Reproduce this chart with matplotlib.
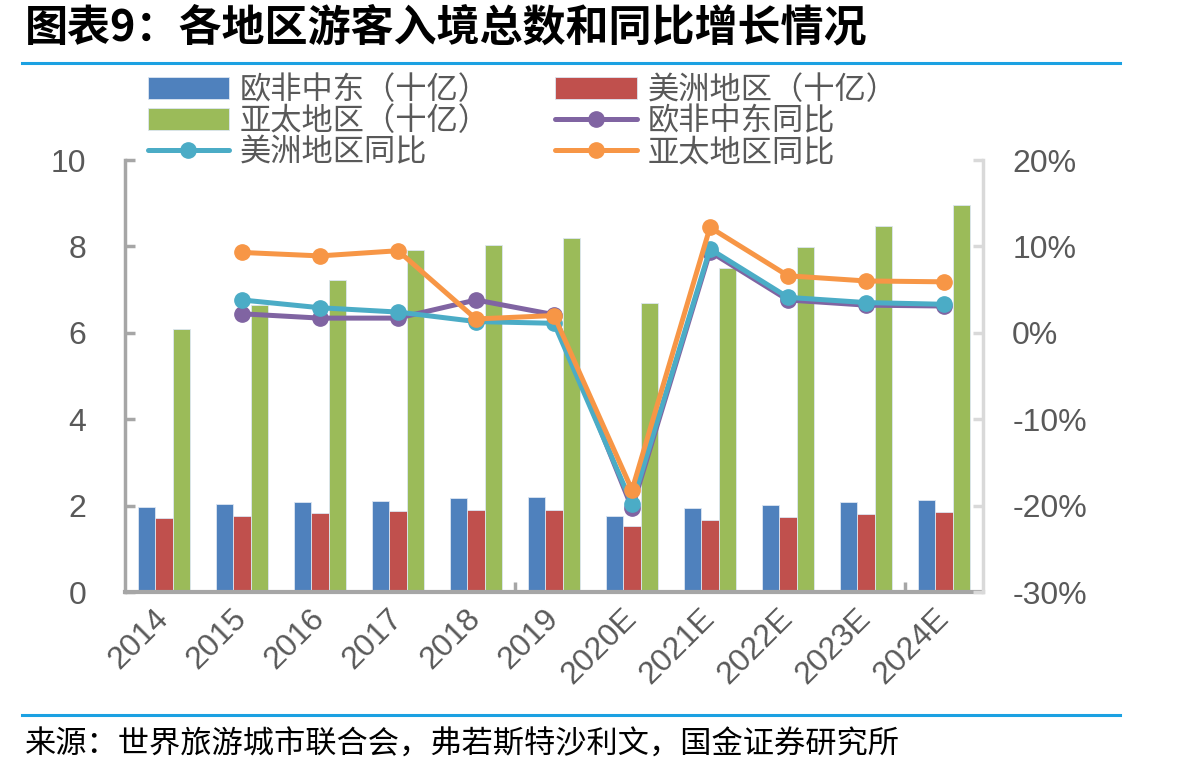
import matplotlib
matplotlib.use("Agg")
import matplotlib.pyplot as plt
import numpy as np
from matplotlib.ticker import PercentFormatter, FixedLocator

plt.rcParams['font.family'] = ['Liberation Sans', 'Noto Sans CJK SC', 'DejaVu Sans']
plt.rcParams['axes.unicode_minus'] = False

# ---- data ----
years = ['2014', '2015', '2016', '2017', '2018', '2019',
         '2020E', '2021E', '2022E', '2023E', '2024E']

# arrivals, billions
emea_total = [1.97, 2.03, 2.08, 2.10, 2.18, 2.21, 1.77, 1.94, 2.01, 2.08, 2.12]
americas_total = [1.71, 1.77, 1.82, 1.87, 1.89, 1.90, 1.52, 1.67, 1.74, 1.80, 1.85]
apac_total = [6.08, 6.64, 7.22, 7.92, 8.03, 8.19, 6.68, 7.51, 7.99, 8.47, 8.96]

# yoy growth, % (starts 2015)
emea_yoy = [2.2, 1.7, 1.7, 3.8, 2.1, -20.3, 9.4, 3.8, 3.2, 3.1]
americas_yoy = [3.8, 2.9, 2.4, 1.3, 1.1, -19.8, 9.7, 4.1, 3.5, 3.3]
apac_yoy = [9.3, 8.9, 9.5, 1.6, 2.0, -18.2, 12.2, 6.6, 6.0, 5.9]

bar_labels = ['欧非中东（十亿）', '美洲地区（十亿）', '亚太地区（十亿）']
line_labels = ['欧非中东同比', '美洲地区同比', '亚太地区同比']

BLUE, RED, GREEN = '#4F81BD', '#C0504D', '#9BBB59'
PURPLE, CYAN, ORANGE = '#8064A2', '#4BACC6', '#F79646'
TEXT_GREY = '#595959'
CJK = 'Noto Sans CJK SC'


def main():
    fig = plt.figure(figsize=(12.03, 7.77), dpi=100)
    ax = fig.add_axes([125 / 1203, 1 - 592 / 777, 858 / 1203, 432 / 777])
    ax2 = ax.twinx()

    x = np.arange(len(years))
    w = 0.225
    bar_kw = dict(width=w, edgecolor='#DCE6F2', linewidth=0.6, zorder=2)
    b1 = ax.bar(x - w, emea_total, color=BLUE, **bar_kw)
    b2 = ax.bar(x, americas_total, color=RED, **bar_kw)
    b3 = ax.bar(x + w, apac_total, color=GREEN, **bar_kw)

    xl = x[1:]
    line_kw = dict(linewidth=3.6, marker='o', markersize=11, solid_capstyle='round')
    l1, = ax2.plot(xl, emea_yoy, color=PURPLE, **line_kw)
    l2, = ax2.plot(xl, americas_yoy, color=CYAN, **line_kw)
    l3, = ax2.plot(xl, apac_yoy, color=ORANGE, **line_kw)

    # axes limits and ticks
    ax.set_xlim(-0.5, len(years) - 0.5)
    ax.set_ylim(0, 10)
    ax.set_yticks([0, 2, 4, 6, 8, 10])
    ax2.set_ylim(-30, 20)
    ax2.set_yticks([-30, -20, -10, 0, 10, 20])
    ax2.yaxis.set_major_formatter(PercentFormatter(decimals=0))

    ax.set_xticks(x)
    ax.set_xticklabels(years, rotation=45, ha='right', va='center',
                       rotation_mode='anchor', fontsize=23, color=TEXT_GREY)
    ax.tick_params(axis='x', which='major', length=0, pad=16)
    ax.xaxis.set_minor_locator(FixedLocator([4.5, 9.5]))
    ax.tick_params(axis='x', which='minor', direction='in', length=7,
                   width=2.5, color='#A6A6A6')

    ax.tick_params(axis='y', direction='in', length=7, width=2.5,
                   color='#A6A6A6', labelsize=23, labelcolor=TEXT_GREY, pad=28)
    ax2.tick_params(axis='y', direction='in', length=7, width=2.5,
                    color='#D9D9D9', labelsize=23, labelcolor=TEXT_GREY, pad=21)

    for s in ['top', 'right']:
        ax.spines[s].set_visible(False)
    for s in ['top', 'left', 'bottom']:
        ax2.spines[s].set_visible(False)
    ax.spines['left'].set_color('#A6A6A6')
    ax.spines['left'].set_linewidth(2.5)
    ax.spines['bottom'].set_color('#A6A6A6')
    ax.spines['bottom'].set_linewidth(3)
    ax2.spines['right'].set_color('#D9D9D9')
    ax2.spines['right'].set_linewidth(2.5)

    # legend: row-major order with ncol=2 (matplotlib fills column first)
    handles = [b1, b3, l2, b2, l1, l3]
    labels = [bar_labels[0], bar_labels[2], line_labels[1],
              bar_labels[1], line_labels[0], line_labels[2]]
    fig.legend(handles, labels, ncol=2, loc='upper left',
               bbox_to_anchor=(132 / 1203, 1 - 58 / 777), frameon=False,
               prop={'family': CJK, 'size': 22.5}, labelcolor=TEXT_GREY,
               handlelength=2.6, handletextpad=0.35, columnspacing=2.1,
               labelspacing=-0.02, borderpad=0)

    # title, separators, source
    fig.text(25 / 1203, 1 - 27 / 777, '图表9：各地区游客入境总数和同比增长情况',
             family=CJK, weight='bold', fontsize=31, va='center', ha='left',
             color='black')
    fig.add_artist(plt.Line2D([22 / 1203, 1120 / 1203], [1 - 63 / 777, 1 - 63 / 777],
                              color='#1BA1E2', linewidth=2.2))
    fig.add_artist(plt.Line2D([22 / 1203, 1120 / 1203], [1 - 715 / 777, 1 - 715 / 777],
                              color='#1BA1E2', linewidth=2.2))
    fig.text(25 / 1203, 1 - 745 / 777,
             '来源：世界旅游城市联合会，弗若斯特沙利文，国金证券研究所',
             family=CJK, fontsize=22.5, va='center', ha='left', color='black')

    fig.savefig('out.png', dpi=100)
    plt.close(fig)


if __name__ == "__main__":
    main()
